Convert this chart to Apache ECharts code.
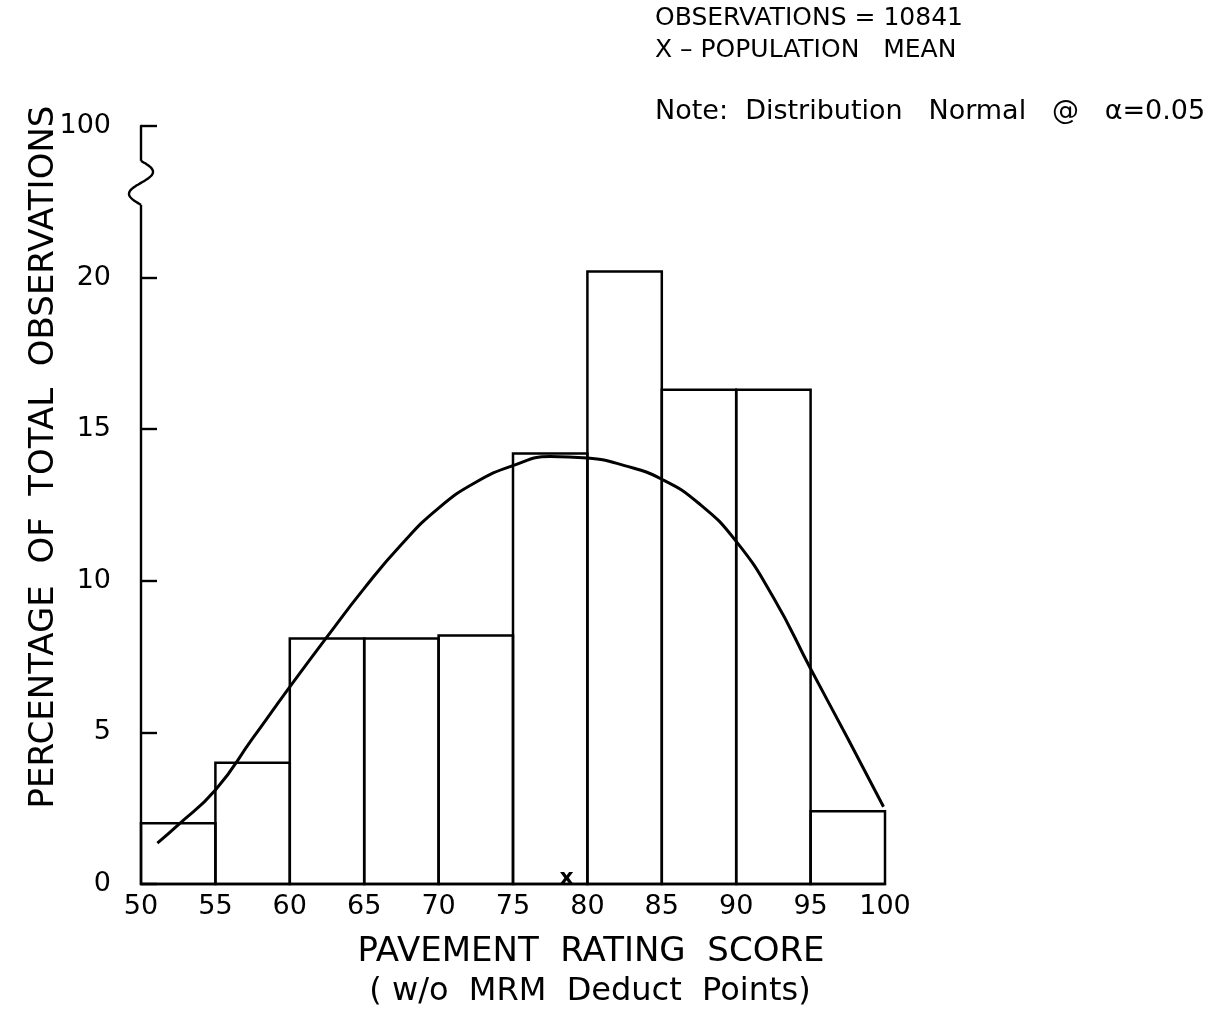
<!DOCTYPE html>
<html><head><meta charset="utf-8">
<script src="https://cdn.jsdelivr.net/npm/echarts@6/dist/echarts.min.js"></script>
<style>html,body{margin:0;padding:0;background:#fff}#c{width:1226px;height:1022px}</style>
</head><body><div id="c"></div>
<script>
// ---- data ----
const binEdges = [50, 55, 60, 65, 70, 75, 80, 85, 90, 95, 100];
const binPercents = [2.0, 4.0, 8.1, 8.1, 8.2, 14.2, 20.2, 16.3, 16.3, 2.4];
const curveX = [51.1, 52.5, 55, 57.5, 60, 62.5, 65, 67.5, 70, 72.5, 75, 77.5, 80, 82.5, 85, 87.5, 90, 92.5, 95, 97.5, 99.9];
const curveY = [1.35, 1.95, 3.1, 4.8, 6.5, 8.15, 9.75, 11.2, 12.4, 13.25, 13.8, 14.1, 14.05, 13.8, 13.35, 12.55, 11.3, 9.45, 7.1, 4.8, 2.55];
const meanScore = 78.6;
const yTickLabels = {0: '0', 5: '5', 10: '10', 15: '15', 20: '20', 25: '100'};
const breakRange = [22.4, 23.85];

const FONT = 'DejaVu Sans';
const chart = echarts.init(document.getElementById('c'));

const histData = binPercents.map((v, i) => [binEdges[i], binEdges[i + 1], v]);
const curveData = curveX.map((x, i) => [x, curveY[i]]);

const option = {
  backgroundColor: '#fff',
  animation: false,
  grid: {left: 141, right: 341, top: 126, bottom: 138},
  xAxis: {
    type: 'value', min: 50, max: 100, interval: 5,
    axisLine: {show: true, lineStyle: {color: '#000', width: 2.4}},
    axisTick: {show: false},
    splitLine: {show: false},
    axisLabel: {color: '#000', fontFamily: FONT, fontSize: 27, margin: 9}
  },
  yAxis: {
    type: 'value', min: 0, max: 25, interval: 5,
    axisLine: {show: true, lineStyle: {color: '#000', width: 2.4}},
    axisTick: {show: true, inside: true, length: 16, lineStyle: {color: '#000', width: 2.4}},
    splitLine: {show: false},
    axisLabel: {color: '#000', fontFamily: FONT, fontSize: 27, margin: 30,
      formatter: v => yTickLabels[v] !== undefined ? yTickLabels[v] : ''}
  },
  series: [
    {
      type: 'custom', z: 2,
      data: histData,
      encode: {x: [0, 1], y: 2},
      renderItem: (params, api) => {
        const p0 = api.coord([api.value(0), 0]);
        const p1 = api.coord([api.value(1), api.value(2)]);
        return {type: 'rect',
          shape: {x: p0[0], y: p1[1], width: p1[0] - p0[0], height: p0[1] - p1[1]},
          style: {fill: 'rgba(255,255,255,0)', stroke: '#000', lineWidth: 2.5}};
      }
    },
    {
      type: 'line', z: 3, smooth: 0.5, showSymbol: false, symbol: 'none',
      data: curveData,
      lineStyle: {color: '#000', width: 3}
    },
    {
      type: 'scatter', z: 4, symbolSize: 0,
      itemStyle: {opacity: 1},
      data: [[meanScore, 0]],
      label: {show: true, position: 'top', distance: -5, formatter: 'x',
        color: '#000', fontFamily: FONT, fontSize: 22, fontWeight: 'bold', opacity: 1}
    }
  ]
};
chart.setOption(option);

// y-axis break symbol and free texts
const pTop = chart.convertToPixel({gridIndex: 0}, [50, breakRange[1]]);
const pBot = chart.convertToPixel({gridIndex: 0}, [50, breakRange[0]]);
const ax = pTop[0];
const wig = [];
for (let i = 0; i <= 40; i++) {
  const t = i / 40;
  wig.push([ax + 12 * Math.sin(2 * Math.PI * t), pTop[1] + (pBot[1] - pTop[1]) * t]);
}
const txt = (x, y, s, size, extra, rot) => ({
  type: 'text', x: x, y: y, z: 10, rotation: rot || 0,
  style: Object.assign({text: s, fill: '#000', font: size + 'px "' + FONT + '"',
    textAlign: 'center', textVerticalAlign: 'middle'}, extra || {})
});
chart.setOption({
  graphic: [
    {type: 'rect', z: 9, shape: {x: ax - 3, y: pTop[1], width: 6, height: pBot[1] - pTop[1]}, style: {fill: '#fff'}},
    {type: 'polyline', z: 10, shape: {points: wig, smooth: 0.3}, style: {stroke: '#000', lineWidth: 2.4, fill: null}},
    txt(44, 457, 'PERCENTAGE  OF  TOTAL  OBSERVATIONS', 34, null, Math.PI / 2),
    txt(591, 952, 'PAVEMENT  RATING  SCORE', 34),
    txt(590, 992, '( w/o  MRM  Deduct  Points)', 32),
    txt(655, 18, 'OBSERVATIONS = 10841', 25, {textAlign: 'left'}),
    txt(655, 50, 'X – POPULATION   MEAN', 25, {textAlign: 'left'}),
    txt(655, 112, 'Note:  Distribution   Normal   @   α=0.05', 27, {textAlign: 'left'})
  ]
});
</script>
</body></html>
